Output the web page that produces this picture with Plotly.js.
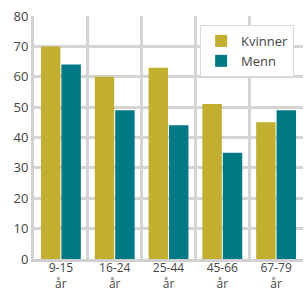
<!DOCTYPE html>
<html><head><meta charset="utf-8">
<script src="https://cdn.plot.ly/plotly-3.0.1.min.js"></script>
<style>html,body{margin:0;padding:0;background:#fff}#c{width:304px;height:292px}</style>
</head><body><div id="c"></div>
<script>
const categories = ["9-15<br>år","16-24<br>år","25-44<br>år","45-66<br>år","67-79<br>år"];
const kvinner = [70, 60, 63, 51, 45];
const menn = [64, 49, 44, 35, 49];
const yTicks = [0,10,20,30,40,50,60,70,80];

const traces = [
  {type:'bar', name:'Kvinner', x:categories, y:kvinner, marker:{color:'#C2AE2F'}},
  {type:'bar', name:'Menn', x:categories, y:menn, marker:{color:'#007987'}},
  {type:'scatter', x:[0], y:[0], xaxis:'x2', mode:'none', showlegend:false, hoverinfo:'skip'}
];
const layout = {
  width:304, height:292,
  margin:{l:34, r:1, t:16, b:33},
  paper_bgcolor:'#fff', plot_bgcolor:'#fff',
  font:{family:'Open Sans, sans-serif', size:13, color:'#444'},
  barmode:'group', bargap:0.24, bargroupgap:0.05,
  xaxis:{type:'category', showgrid:false, ticks:'', tickfont:{size:12, color:'#444'}, ticklabelstandoff:-4, showline:true, linecolor:'#d0d0d0', linewidth:3, zeroline:false},
  xaxis2:{overlaying:'x', range:[-0.5,4.5], tick0:-0.5, dtick:1, showgrid:true, gridcolor:'#d4d4d4', gridwidth:3, showticklabels:false, ticks:'', zeroline:false, showline:false},
  yaxis:{range:[0,80], tickvals:yTicks, showgrid:true, gridcolor:'#d4d4d4', gridwidth:3, ticks:'', tickfont:{size:13, color:'#444'}, showline:true, linecolor:'#d0d0d0', linewidth:3, zeroline:false, ticklen:0},
  legend:{x:0.967, y:0.963, xanchor:'right', yanchor:'top', bgcolor:'#fff', bordercolor:'#d8d8d8', borderwidth:1, font:{size:13, color:'#444'}, tracegroupgap:0, itemwidth:30},
  showlegend:true
};
Plotly.newPlot('c', traces, layout, {displayModeBar:false, staticPlot:true});
</script></body></html>
